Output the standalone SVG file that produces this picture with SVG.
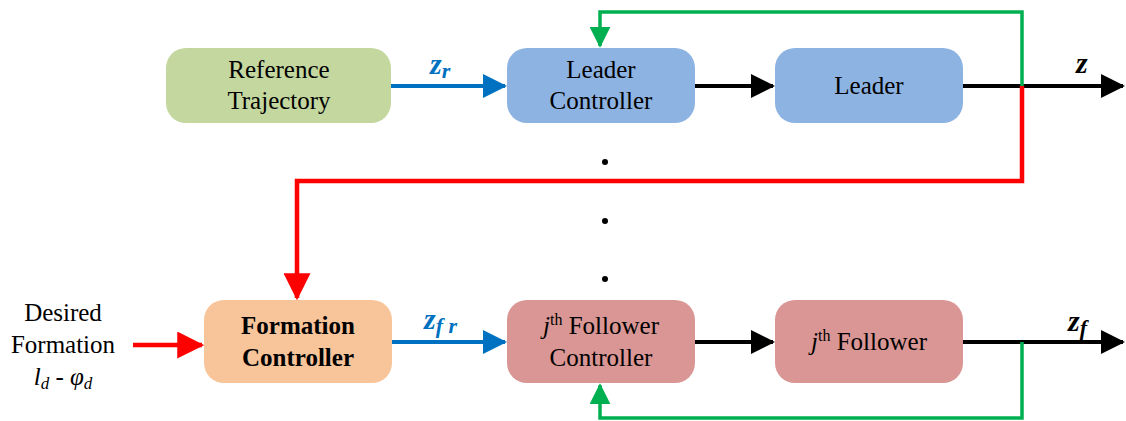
<svg xmlns="http://www.w3.org/2000/svg" width="1126" height="421" viewBox="0 0 1126 421">
<defs>
<marker id="ak" markerWidth="6" markerHeight="6" refX="5.5" refY="3" orient="auto" markerUnits="strokeWidth"><path d="M0,0L6,3L0,6z" fill="#000"/></marker>
<marker id="ab" markerWidth="6" markerHeight="6" refX="5.5" refY="3" orient="auto" markerUnits="strokeWidth"><path d="M0,0L6,3L0,6z" fill="#0070C0"/></marker>
<marker id="ar" markerWidth="6" markerHeight="6" refX="5.5" refY="3" orient="auto" markerUnits="strokeWidth"><path d="M0,0L6,3L0,6z" fill="#FF0000"/></marker>
<marker id="ag" markerWidth="6" markerHeight="6" refX="5.5" refY="3" orient="auto" markerUnits="strokeWidth"><path d="M0,0L6,3L0,6z" fill="#00B050"/></marker>
</defs>
<rect width="1126" height="421" fill="#fff"/>
<g id="connectors" fill="none">
<path stroke="#0070C0" stroke-width="4" d="M391,86H505" marker-end="url(#ab)"/>
<path stroke="#000" stroke-width="4" d="M695,86H773" marker-end="url(#ak)"/>
<path stroke="#000" stroke-width="4" d="M963,86H1123" marker-end="url(#ak)"/>
<path stroke="#00B050" stroke-width="3.5" d="M1022,86V12H600V46" marker-end="url(#ag)"/>
<path stroke="#FF0000" stroke-width="4.5" d="M1022,86V181H297V298" marker-end="url(#ar)"/>
<path stroke="#FF0000" stroke-width="4.5" d="M133,345H202" marker-end="url(#ar)"/>
<path stroke="#0070C0" stroke-width="4" d="M391,342H505" marker-end="url(#ab)"/>
<path stroke="#000" stroke-width="4" d="M695,342H773" marker-end="url(#ak)"/>
<path stroke="#000" stroke-width="4" d="M963,342H1123" marker-end="url(#ak)"/>
<path stroke="#00B050" stroke-width="3.5" d="M1022,342V418H600V385" marker-end="url(#ag)"/>
</g>
<g id="dots" fill="#000">
<circle cx="605" cy="162" r="3"/>
<circle cx="605" cy="221" r="3"/>
<circle cx="605" cy="279" r="3"/>
</g>
<g id="ref">
<rect x="166" y="48" width="225" height="75" rx="20" fill="#C4D79F"/>
<text font-family="Liberation Serif" font-size="25" text-anchor="middle" x="279" y="78">Reference</text>
<text font-family="Liberation Serif" font-size="25" text-anchor="middle" x="279" y="109">Trajectory</text>
</g>
<g id="leaderctrl">
<rect x="507" y="48" width="188" height="75" rx="20" fill="#8DB3E2"/>
<text font-family="Liberation Serif" font-size="25" text-anchor="middle" x="601" y="78">Leader</text>
<text font-family="Liberation Serif" font-size="25" text-anchor="middle" x="601" y="109">Controller</text>
</g>
<g id="leader">
<rect x="775" y="48" width="188" height="75" rx="20" fill="#8DB3E2"/>
<text font-family="Liberation Serif" font-size="25" text-anchor="middle" x="869" y="94">Leader</text>
</g>
<g id="formctrl">
<rect x="204" y="300" width="188" height="83" rx="20" fill="#F8C49A"/>
<text font-family="Liberation Serif" font-size="25" font-weight="bold" text-anchor="middle" x="298" y="334">Formation</text>
<text font-family="Liberation Serif" font-size="25" font-weight="bold" text-anchor="middle" x="298" y="366">Controller</text>
</g>
<g id="folctrl">
<rect x="507" y="300" width="188" height="83" rx="20" fill="#D99694"/>
<text font-family="Liberation Serif" font-size="25" text-anchor="middle" x="601" y="334"><tspan font-style="italic">j</tspan><tspan font-size="16" dy="-9">th</tspan><tspan dy="9"> Follower</tspan></text>
<text font-family="Liberation Serif" font-size="25" text-anchor="middle" x="601" y="366">Controller</text>
</g>
<g id="follower">
<rect x="775" y="300" width="188" height="83" rx="20" fill="#D99694"/>
<text font-family="Liberation Serif" font-size="25" text-anchor="middle" x="869" y="350"><tspan font-style="italic">j</tspan><tspan font-size="16" dy="-9">th</tspan><tspan dy="9"> Follower</tspan></text>
</g>
<g id="desired">
<text font-family="Liberation Serif" font-size="25" text-anchor="middle" x="63" y="321">Desired</text>
<text font-family="Liberation Serif" font-size="25" text-anchor="middle" x="63" y="353">Formation</text>
<text font-family="Liberation Serif" font-size="25" font-style="italic" text-anchor="middle" x="63" y="385">l<tspan font-size="17" dy="4">d</tspan><tspan dy="-4" font-style="normal"> - </tspan>φ<tspan font-size="17" dy="4">d</tspan></text>
</g>
<g id="labels">
<text font-family="Liberation Serif" font-size="30" font-style="italic" font-weight="bold" x="430" y="74" fill="#0070C0">z<tspan font-size="22" dy="4">r</tspan></text>
<text font-family="Liberation Serif" font-size="30" font-style="italic" font-weight="bold" x="1076" y="73" fill="#000">z</text>
<text font-family="Liberation Serif" font-size="30" font-style="italic" font-weight="bold" x="424" y="329" fill="#0070C0">z<tspan font-size="22" dy="4">f r</tspan></text>
<text font-family="Liberation Serif" font-size="30" font-style="italic" font-weight="bold" x="1068" y="331" fill="#000">z<tspan font-size="22" dy="4">f</tspan></text>
</g>
</svg>
